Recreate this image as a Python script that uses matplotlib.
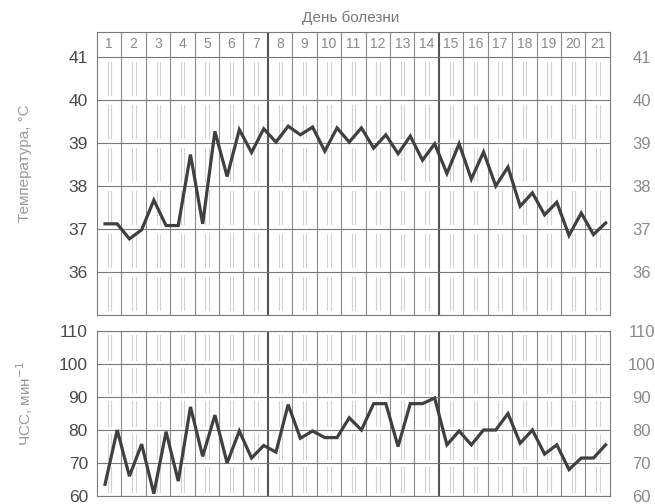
import matplotlib.pyplot as plt
import numpy as np

plt.rcParams['font.family'] = ['Liberation Sans', 'DejaVu Sans']

# day of illness, two readings per day (morning / evening)
days = list(range(1, 22))
temp = [37.12, 37.12, 36.77, 36.98, 37.67, 37.08, 37.08, 38.73, 37.12, 39.27,
        38.22, 39.31, 38.78, 39.33, 39.02, 39.39, 39.19, 39.37, 38.81, 39.35,
        39.02, 39.35, 38.88, 39.19, 38.75, 39.16, 38.60, 38.98, 38.29, 38.98,
        38.16, 38.79, 38.00, 38.44, 37.53, 37.84, 37.33, 37.62, 36.85, 37.37,
        36.87, 37.14]
hr = [63.5, 80, 66, 75.7, 60.7, 79.5, 64.5, 87, 72, 84.5,
      70, 79.7, 71.5, 75.3, 73.3, 87.7, 77.5, 79.7, 77.7, 77.7,
      83.7, 80, 88, 88, 75, 88, 88, 89.7, 75.5, 79.7,
      75.5, 80, 80, 85, 76, 80, 72.7, 75.5, 68, 71.5,
      71.5, 75.5]
temp_ticks = [36, 37, 38, 39, 40, 41]
hr_ticks = [60, 70, 80, 90, 100, 110]

x = np.arange(len(temp)) * 0.5 + 0.33
ndays = len(days)

fig = plt.figure(figsize=(6.55, 5.04), dpi=100)
ax_t = fig.add_axes([0.148, 0.375, 0.783, 0.5615])
ax_h = fig.add_axes([0.148, 0.016, 0.783, 0.327])


def draw_grid(ax, ylo, yhi, step):
    # faint double lines inside each day cell
    for d in range(ndays):
        for off in (0.44, 0.58):
            for k in np.arange(ylo, yhi, step):
                ax.plot([d + off, d + off], [k + 0.12 * step, k + 0.88 * step],
                        color='#d2d2d2', lw=0.8, zorder=1)
    for d in range(1, ndays):
        thick = d in (7, 14)
        ax.axvline(d, color='#555555' if thick else '#8a8a8a',
                   lw=1.5 if thick else 0.8, zorder=2)
    for k in np.arange(ylo, yhi + step / 2, step):
        ax.axhline(k, color='#7a7a7a', lw=0.8, zorder=2)
    for s in ax.spines.values():
        s.set_color('#7a7a7a')
        s.set_linewidth(0.8)
    ax.set_xlim(0, ndays)
    ax.set_xticks([])


def side_ticks(ax, ticks):
    ax.set_yticks(ticks)
    ax.tick_params(axis='y', length=0, pad=6.5, labelsize=12.5, labelcolor='#4a4a4a')
    ax2 = ax.twinx()
    ax2.set_ylim(ax.get_ylim())
    ax2.set_yticks(ticks)
    ax2.tick_params(axis='y', length=0, pad=23, labelsize=12, labelcolor='#8a8a8a')
    plt.setp(ax2.get_yticklabels(), ha='center')
    for s in ax2.spines.values():
        s.set_visible(False)


# temperature panel
ax_t.set_ylim(35, 41.58)
draw_grid(ax_t, 35, 41, 1)
for d in days:
    ax_t.text(d - 0.5, 41.29, str(d), ha='center', va='center',
              fontsize=10, color='#8a8a8a')
ax_t.plot(x, temp, color='#404040', lw=2.3, zorder=5, solid_joinstyle='miter')
side_ticks(ax_t, temp_ticks)

# heart rate panel
ax_h.set_ylim(60, 110)
draw_grid(ax_h, 60, 110, 10)
ax_h.plot(x, hr, color='#404040', lw=2.3, zorder=5, solid_joinstyle='miter')
side_ticks(ax_h, hr_ticks)

fig.text(0.536, 1 - 18 / 504, 'День болезни', ha='center', va='center',
         fontsize=11, color='#777777')
fig.text(25 / 655, 1 - 163 / 504, 'Температура, °C', rotation=90,
         ha='center', va='center', fontsize=11, color='#999999')
fig.text(25 / 655, 1 - 404 / 504, r'ЧСС, мин$^{-1}$', rotation=90,
         ha='center', va='center', fontsize=11, color='#999999')

fig.savefig('out.png', dpi=100)
